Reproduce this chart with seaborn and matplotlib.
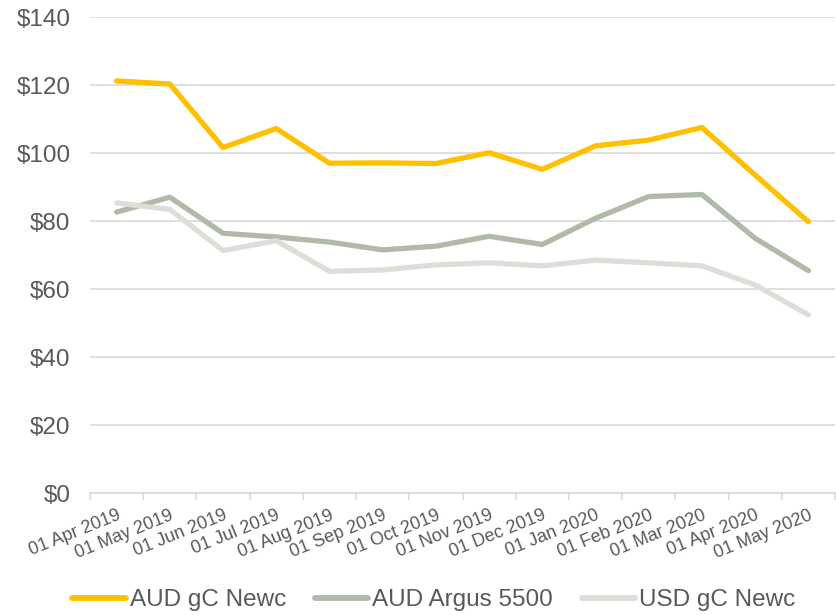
import seaborn as sns
import matplotlib.pyplot as plt
import pandas as pd
import numpy as np
from matplotlib.ticker import FixedLocator, FuncFormatter

months = ['01 Apr 2019', '01 May 2019', '01 Jun 2019', '01 Jul 2019', '01 Aug 2019',
          '01 Sep 2019', '01 Oct 2019', '01 Nov 2019', '01 Dec 2019', '01 Jan 2020',
          '01 Feb 2020', '01 Mar 2020', '01 Apr 2020', '01 May 2020']
aud_gc = [121.2, 120.3, 101.6, 107.2, 97.0, 97.1, 96.9, 100.1, 95.2, 102.1, 103.8, 107.5, 93.5, 79.8]
aud_argus = [82.6, 87.0, 76.4, 75.3, 73.8, 71.5, 72.6, 75.5, 73.1, 80.8, 87.2, 87.8, 74.9, 65.4]
usd_gc = [85.3, 83.4, 71.3, 74.2, 65.2, 65.6, 67.1, 67.7, 66.8, 68.5, 67.7, 66.8, 61.2, 52.4]

series = ['AUD gC Newc', 'AUD Argus 5500', 'USD gC Newc']
colors = ['#FFC000', '#B1BAA9', '#DCDFD7']

df = pd.DataFrame({'pos': np.arange(len(months)), 'AUD gC Newc': aud_gc,
                   'AUD Argus 5500': aud_argus, 'USD gC Newc': usd_gc})
long = df.melt(id_vars='pos', value_vars=series, var_name='series', value_name='price')

sns.set_style('white')
plt.rcParams['font.family'] = ['Liberation Sans', 'DejaVu Sans']
text_col = '#595959'

fig = plt.figure(figsize=(8.36, 6.15), dpi=100)
ax = fig.add_axes([90 / 836, 1 - 493 / 615, 745 / 836, 476 / 615])

sns.lineplot(data=long, x='pos', y='price', hue='series', hue_order=series,
             palette=colors, linewidth=3.8, ax=ax, legend=False,
             solid_capstyle='round', zorder=3)

ax.set_ylim(0, 140)
ax.set_xlim(-0.5, len(months) - 0.5)
ax.set_yticks(range(0, 141, 20))
ax.yaxis.set_major_formatter(FuncFormatter(lambda v, p: f'${v:.0f}'))
ax.grid(axis='y', color='#D9D9D9', linewidth=1.2, zorder=0)
ax.grid(axis='x', visible=False)

# ticks between categories, labels at centres
ax.xaxis.set_major_locator(FixedLocator(np.arange(-0.5, len(months), 1)))
ax.xaxis.set_major_formatter(FuncFormatter(lambda v, p: ''))
ax.xaxis.set_minor_locator(FixedLocator(np.arange(len(months))))
ax.set_xticklabels(months, minor=True, rotation=22, ha='right',
                   rotation_mode='anchor', fontsize=13, color=text_col)
ax.tick_params(axis='x', which='major', length=5, width=1.2, color='#D9D9D9', bottom=True)
ax.tick_params(axis='x', which='minor', length=0, pad=10)
ax.tick_params(axis='y', length=0, labelsize=17.5, labelcolor=text_col, pad=14)

for s in ['top', 'right', 'left']:
    ax.spines[s].set_visible(False)
ax.spines['bottom'].set_color('#D9D9D9')
ax.spines['bottom'].set_linewidth(1.2)
ax.set_xlabel('')
ax.set_ylabel('')

handles = [plt.Line2D([], [], color=c, linewidth=4.2, solid_capstyle='round') for c in colors]
leg = fig.legend(handles, series, loc='center', ncol=3, frameon=False,
                 bbox_to_anchor=(0.519, 1 - 600 / 615), fontsize=17.5, handlelength=2.2,
                 handletextpad=0.15, columnspacing=1.2, borderpad=0, borderaxespad=0)
for t in leg.get_texts():
    t.set_color(text_col)

fig.savefig('out.png', dpi=100)
